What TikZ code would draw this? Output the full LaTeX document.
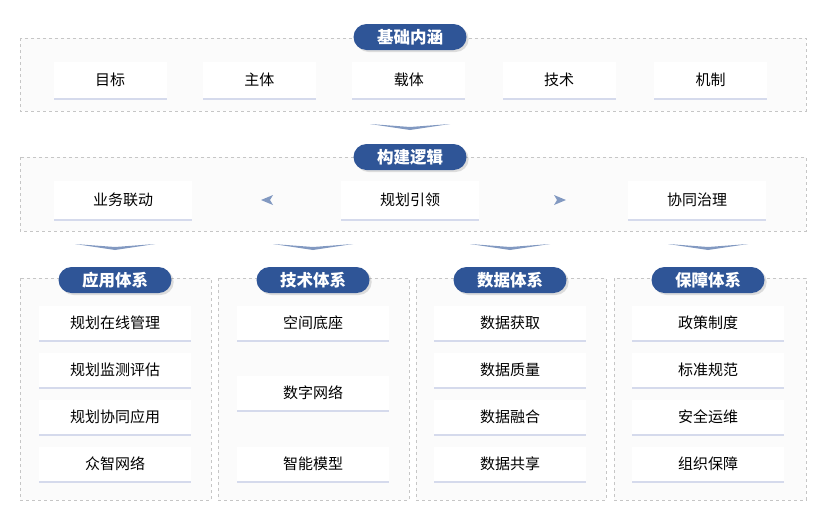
\documentclass[tikz,border=0pt]{standalone}
\usepackage{fontspec}
\newfontfamily\cjk{Noto Sans CJK SC}
\usetikzlibrary{positioning,shadows}
\definecolor{pillblue}{HTML}{2F5597}
\definecolor{edgeblue}{HTML}{C5CCE6}
\begin{document}
\begin{tikzpicture}
 	[x=1pt,y=-1pt,font=\cjk\fontsize{15}{17}\selectfont,
 	% STYLES
 	% the dashed frame of each group
 	frame/.style={draw=gray!45, dashed, fill=gray!3},
 	% the blue title of each group
 	pill/.style={rectangle, rounded corners=13pt, fill=pillblue, text=white, font=\cjk\bfseries\fontsize{16.5}{18}\selectfont, minimum width=113pt, minimum height=26pt, inner ysep=1pt, drop shadow={opacity=0.25, shadow yshift=-2pt}},
 	% the white item boxes
 	item/.style={rectangle, fill=white, minimum width=113pt, minimum height=36pt, drop shadow={fill=edgeblue, opacity=0.7, shadow xshift=0pt, shadow yshift=-1.5pt}},
 	wide/.style={item, minimum width=138pt, minimum height=38pt},
 	col/.style={item, minimum width=152pt, minimum height=34pt},
 	chev/.style={fill=pillblue!60}]
 	\useasboundingbox (0,0) rectangle (826,517);
 	
 	% frames
 	\draw[frame] (20,38) rectangle (806,111);
 	\draw[frame] (20,157) rectangle (806,231);
 	\draw[frame] (20,278) rectangle (211,500);
 	\draw[frame] (218,278) rectangle (409,500);
 	\draw[frame] (416,278) rectangle (606,500);
 	\draw[frame] (614,278) rectangle (806,500);
 	
 	% basic row
 	\node [pill] (Basis) at (410,37) {基础内涵};
 	\node [item] (Goal) at (110,80) {目标};
 	\node [item, right = 36pt of Goal] (Subject) {主体};
 	\node [item, right = 36pt of Subject] (Carrier) {载体};
 	\node [item, right = 37pt of Carrier] (Tech) {技术};
 	\node [item, right = 38pt of Tech] (Mech) {机制};
 	
 	% logic row
 	\node [pill] (Logic) at (410,157) {构建逻辑};
 	\node [wide] (Lead) at (410,200) {规划引领};
 	\node [wide] (Link) at (123,200) {业务联动};
 	\node [wide] (Gov) at (697,200) {协同治理};
 	\coordinate (ArrL) at (270,200);
 	\coordinate (ArrR) at (557,200);
 	\fill[chev] (ArrL) ++(-9,0) -- ++(12,-5) -- ++(-3,5) -- ++(3,5) -- cycle;
 	\fill[chev] (ArrR) ++(9,0) -- ++(-12,-5) -- ++(3,5) -- ++(-3,5) -- cycle;
 	
 	% chevrons
 	\foreach \cx/\cy in {410/124, 115/244, 313/244, 510/244, 708/244}
 	  \fill[chev] (\cx-40,\cy) -- (\cx,\cy+6) -- (\cx+40,\cy) -- (\cx,\cy+3) -- cycle;
 	
 	% four systems
 	\node [pill] (App) at (115,280) {应用体系};
 	\node [pill] (TechSys) at (313,280) {技术体系};
 	\node [pill] (Data) at (510,280) {数据体系};
 	\node [pill] (Guard) at (708,280) {保障体系};
 	
 	\node [col] (A1) at (115,323) {规划在线管理};
 	\node [col] (A2) at (115,370) {规划监测评估};
 	\node [col] (A3) at (115,417) {规划协同应用};
 	\node [col] (A4) at (115,464) {众智网络};
 	
 	\node [col] (T1) at (313,323) {空间底座};
 	\node [col] (T2) at (313,393) {数字网络};
 	\node [col] (T3) at (313,464) {智能模型};
 	
 	\node [col] (D1) at (510,323) {数据获取};
 	\node [col] (D2) at (510,370) {数据质量};
 	\node [col] (D3) at (510,417) {数据融合};
 	\node [col] (D4) at (510,464) {数据共享};
 	
 	\node [col] (G1) at (708,323) {政策制度};
 	\node [col] (G2) at (708,370) {标准规范};
 	\node [col] (G3) at (708,417) {安全运维};
 	\node [col] (G4) at (708,464) {组织保障};
 	
 	\end{tikzpicture}
\end{document}
